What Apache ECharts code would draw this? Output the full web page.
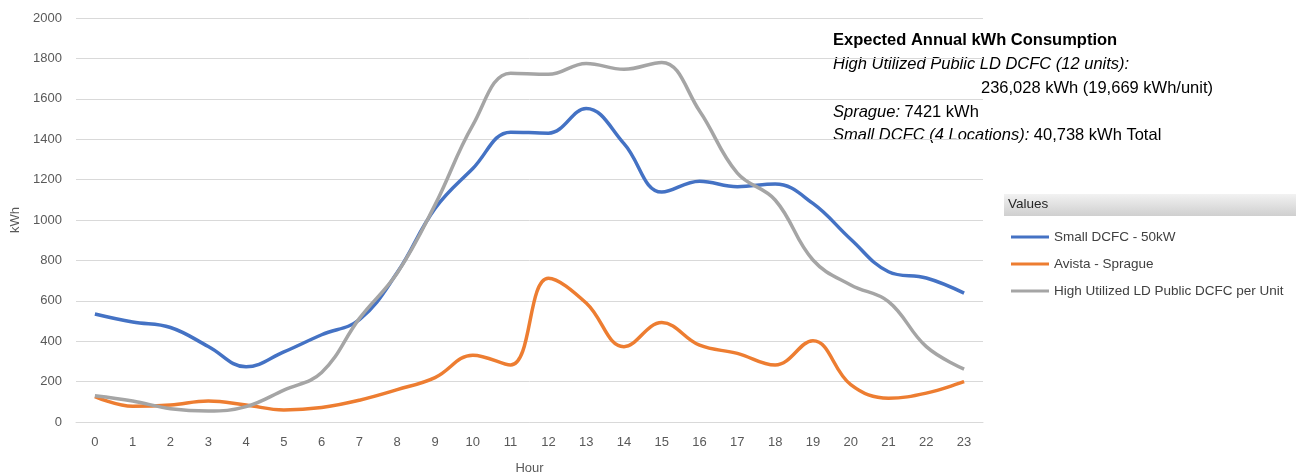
<!DOCTYPE html>
<html>
<head>
<meta charset="utf-8">
<script src="https://cdn.jsdelivr.net/npm/echarts@6/dist/echarts.min.js"></script>
<style>
  html, body { margin: 0; padding: 0; background: #fff; }
  #chart { width: 1296px; height: 476px; }
</style>
</head>
<body>
<div id="chart"></div>
<script>
// hours 0..23
const hours = ['0','1','2','3','4','5','6','7','8','9','10','11','12','13','14','15','16','17','18','19','20','21','22','23'];

const smallDcfc = [535, 495, 468, 374, 273, 347, 432, 507, 740, 1057, 1255, 1435, 1430, 1552, 1378, 1138, 1192, 1165, 1178, 1082, 905, 744, 713, 638];
const avistaSprague = [126, 78, 84, 104, 84, 60, 72, 108, 160, 220, 331, 282, 712, 589, 373, 492, 380, 340, 282, 402, 185, 118, 143, 200];
const highUtilized = [130, 104, 66, 54, 76, 158, 245, 513, 738, 1075, 1470, 1727, 1721, 1775, 1746, 1780, 1540, 1232, 1099, 802, 678, 596, 373, 262];

const seriesNames = ['Small DCFC - 50kW', 'Avista - Sprague', 'High Utilized LD Public DCFC per Unit'];
const colors = ['#4472C4', '#ED7D31', '#A5A5A5'];

const noteLines = [
  'Expected Annual kWh Consumption',
  'High Utilized Public LD DCFC (12 units):',
  '236,028 kWh (19,669 kWh/unit)',
  'Sprague: 7421 kWh',
  'Small DCFC (4 Locations): 40,738 kWh Total'
];

const chart = echarts.init(document.getElementById('chart'));

const font = 'Liberation Sans, Arial, sans-serif';
const noteSize = 16.5;

chart.setOption({
  animation: false,
  color: colors,
  grid: { left: 76, right: 313, top: 18, bottom: 54, containLabel: false, outerBoundsMode: 'none' },
  xAxis: {
    type: 'category',
    data: hours,
    boundaryGap: true,
    name: 'Hour',
    nameLocation: 'middle',
    nameGap: 40,
    nameTextStyle: { color: '#595959', fontSize: 13, fontFamily: font },
    axisLine: { lineStyle: { color: '#d9d9d9' } },
    axisTick: { show: false },
    axisLabel: { color: '#595959', fontSize: 13, fontFamily: font, margin: 14 }
  },
  yAxis: {
    type: 'value',
    min: 0,
    max: 2000,
    interval: 200,
    name: 'kWh',
    nameLocation: 'middle',
    nameGap: 54,
    nameTextStyle: { color: '#595959', fontSize: 13, fontFamily: font },
    axisLine: { show: false },
    axisTick: { show: false },
    splitLine: { lineStyle: { color: '#d9d9d9' } },
    axisLabel: { color: '#595959', fontSize: 13, fontFamily: font, margin: 14, formatter: v => String(v) }
  },
  legend: {
    orient: 'vertical',
    left: 1006,
    top: 225,
    icon: 'rect',
    itemWidth: 38,
    itemHeight: 3,
    itemGap: 13,
    textStyle: { color: '#404040', fontSize: 13.5, fontFamily: font },
    data: seriesNames
  },
  graphic: [
    {
      type: 'rect',
      left: 1004, top: 194,
      shape: { width: 292, height: 22 },
      style: {
        fill: new echarts.graphic.LinearGradient(0, 0, 0, 1, [
          { offset: 0, color: '#f2f2f2' },
          { offset: 1, color: '#cfcfcf' }
        ])
      }
    },
    {
      type: 'text', left: 1008, top: 197,
      style: { text: 'Values', fontSize: 13.5, fontFamily: font, fill: '#262626' }
    },
    {
      type: 'text', left: 833, top: 32,
      style: { text: noteLines[0], fontSize: noteSize, fontWeight: 'bold', fontFamily: font, fill: '#000' }
    },
    {
      type: 'text', left: 833, top: 56,
      style: { text: noteLines[1], fontSize: noteSize, fontStyle: 'italic', fontFamily: font, fill: '#000' }
    },
    {
      type: 'text', right: 83, top: 80,
      style: { text: noteLines[2], fontSize: noteSize, fontFamily: font, fill: '#000' }
    },
    {
      type: 'text', left: 833, top: 104,
      style: {
        text: '{i|Sprague:} 7421 kWh',
        fontSize: noteSize, fontFamily: font, fill: '#000',
        rich: { i: { fontStyle: 'italic', fontSize: noteSize, fontFamily: font, fill: '#000' } }
      }
    },
    {
      type: 'text', left: 833, top: 127,
      style: {
        text: '{i|Small DCFC (4 Locations):} 40,738 kWh Total',
        fontSize: noteSize, fontFamily: font, fill: '#000',
        rich: { i: { fontStyle: 'italic', fontSize: noteSize, fontFamily: font, fill: '#000' } }
      }
    }
  ],
  series: [
    { name: seriesNames[0], type: 'line', data: smallDcfc, smooth: 0.4, showSymbol: false, lineStyle: { width: 3.5 } },
    { name: seriesNames[1], type: 'line', data: avistaSprague, smooth: 0.4, showSymbol: false, lineStyle: { width: 3.5 } },
    { name: seriesNames[2], type: 'line', data: highUtilized, smooth: 0.4, showSymbol: false, lineStyle: { width: 3.5 } }
  ]
});
</script>
</body>
</html>
